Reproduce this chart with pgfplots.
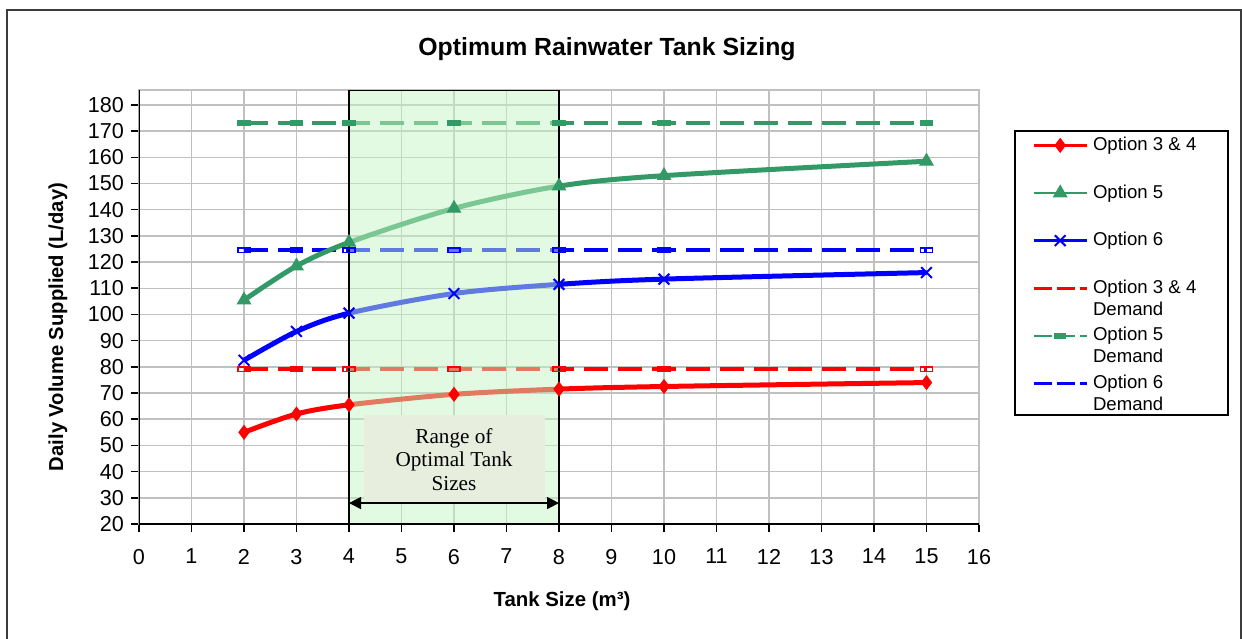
\documentclass[border=0pt]{standalone}
\usepackage{fontspec}
\setmainfont{Liberation Sans}
\newfontfamily\serif{Liberation Serif}
\usepackage{pgfplots}
\pgfplotsset{compat=1.18}
\usetikzlibrary{arrows.meta}

\definecolor{optred}{RGB}{255,0,0}
\definecolor{optgreen}{RGB}{51,153,102}
\definecolor{optblue}{RGB}{0,0,255}
\definecolor{gridgray}{RGB}{192,192,192}
\definecolor{zonefill}{RGB}{195,245,195}
\definecolor{boxfill}{RGB}{232,238,222}
\definecolor{framegray}{RGB}{60,60,60}

\begin{document}
\begin{tikzpicture}
\useasboundingbox (-69.5pt,-57pt) rectangle (551.5pt,262pt);
\begin{axis}[
  at={(0pt,0pt)}, anchor=south west,
  scale only axis,
  width=420pt, height=217pt,
  xmin=0, xmax=16, ymin=20, ymax=185.7,
  xtick={0,1,...,16}, ytick={20,30,...,180},
  grid=major,
  grid style={gridgray, line width=0.75pt},
  axis line style={gridgray, line width=1pt},
  tick align=outside, tick pos=left,
  major tick length=4pt,
  tick style={black, line width=0.8pt},
  ticklabel style={font=\fontsize{10.8}{12}\selectfont},
  /pgf/number format/assume math mode=true,
  xticklabel style={yshift=-5pt},
  legend style={at={(1.0631,0.8986)}, anchor=north west,
    draw=none, fill=none, inner sep=0pt, column sep=1.5pt,
    row sep=12.8pt,
    font=\fontsize{9.3}{11}\selectfont,
    nodes={inner sep=1pt, text height=7pt, text depth=2pt}},
  legend cell align=left,
  legend image code/.code={
    \draw[mark repeat=2, mark phase=2, line width=1.3pt, #1]
      plot coordinates {(0pt,0pt) (13.25pt,0pt) (26.5pt,0pt)};},
]
% demand lines
\addplot[forget plot, optred, line width=2pt, dash pattern=on 12pt off 5pt,
  mark=square, mark size=2pt,
  mark options={solid, fill=white, line width=0.8pt, xscale=1.5, yscale=0.55}]
  coordinates {(2,79) (3,79) (4,79) (6,79) (8,79) (10,79) (15,79)};
\addplot[forget plot, optgreen, line width=2pt, dash pattern=on 12pt off 5pt,
  mark=square*, mark size=2pt,
  mark options={solid, line width=0.8pt, xscale=1.5, yscale=0.55}]
  coordinates {(2,173) (3,173) (4,173) (6,173) (8,173) (10,173) (15,173)};
\addplot[forget plot, optblue, line width=2pt, dash pattern=on 12pt off 5pt,
  mark=square, mark size=2pt,
  mark options={solid, fill=white, line width=0.8pt, xscale=1.5, yscale=0.55}]
  coordinates {(2,124.5) (3,124.5) (4,124.5) (6,124.5) (8,124.5) (10,124.5) (15,124.5)};
% supplied
\addplot[optred, line width=2.5pt, smooth, mark=diamond*, mark size=3.4pt,
  mark options={line width=0.5pt}]
  coordinates {(2,55) (3,62) (4,65.5) (6,69.5) (8,71.5) (10,72.5) (15,74)};
\addlegendentry{Option 3 \& 4}
\addplot[optgreen, line width=2.5pt, smooth, mark=triangle*, mark size=3.8pt,
  mark options={line width=0.5pt}]
  coordinates {(2,105.5) (3,118.5) (4,127.5) (6,140.5) (8,149) (10,153) (15,158.5)};
\addlegendentry{Option 5}
\addplot[optblue, line width=2.5pt, smooth, mark=x, mark size=3.8pt,
  mark options={line width=1pt}]
  coordinates {(2,82.5) (3,93.5) (4,100.5) (6,108) (8,111.5) (10,113.5) (15,116)};
\addlegendentry{Option 6}
\addlegendimage{optred, dash pattern=on 9pt off 2.5pt}
\addlegendentry{\makebox[0pt][l]{\raisebox{-11pt}[0pt][0pt]{Demand}}Option 3 \& 4}
\addlegendimage{optgreen, dash pattern=on 9pt off 2.5pt, mark=square*, mark size=1.4pt,
  mark options={solid, xscale=1.6, yscale=0.6}}
\addlegendentry{\makebox[0pt][l]{\raisebox{-11pt}[0pt][0pt]{Demand}}Option 5}
\addlegendimage{optblue, dash pattern=on 9pt off 2.5pt, mark=-, mark size=1.5pt,
  mark options={solid}}
\addlegendentry{\makebox[0pt][l]{\raisebox{-11pt}[0pt][0pt]{Demand}}Option 6}
% optimal range overlay
\fill[zonefill, opacity=0.5] (axis cs:4,20) rectangle (axis cs:8,185.7);
\draw[black, line width=0.75pt] (axis cs:4,20) -- (axis cs:4,185.7) -- (axis cs:8,185.7) -- (axis cs:8,20);
\fill[boxfill] (axis cs:4.287,28.4) rectangle (axis cs:7.732,61.6);
\node[font=\serif\fontsize{10.6}{11.75}\selectfont, align=center]
  at (axis cs:6,44.6) {Range of\\Optimal Tank\\Sizes};
\draw[black, line width=0.6pt, {Triangle[length=6pt,width=6pt]}-{Triangle[length=6pt,width=6pt]}]
  (axis cs:4,28) -- (axis cs:8,28);
% black left and bottom axis lines
\draw[black, line width=1pt] (rel axis cs:0,1) -- (rel axis cs:0,0) -- (rel axis cs:1,0);
\end{axis}
% titles and frame
\node[font=\bfseries\fontsize{12.4}{14}\selectfont] at (234pt,237.5pt) {Optimum Rainwater Tank Sizing};
\node[font=\bfseries\fontsize{10.1}{11}\selectfont, rotate=90] at (-40.5pt,98.5pt) {Daily Volume Supplied (L/day)};
\node[font=\bfseries\fontsize{10.2}{11}\selectfont] at (211.5pt,-38.5pt) {Tank Size (m³)};
\draw[black, line width=0.8pt] (438pt,196.5pt) rectangle (544.5pt,54.5pt);
\draw[framegray, line width=1pt] (-66pt,-58pt) -- (-66pt,257pt) -- (551pt,257pt) -- (551pt,-58pt);
\end{tikzpicture}
\end{document}
